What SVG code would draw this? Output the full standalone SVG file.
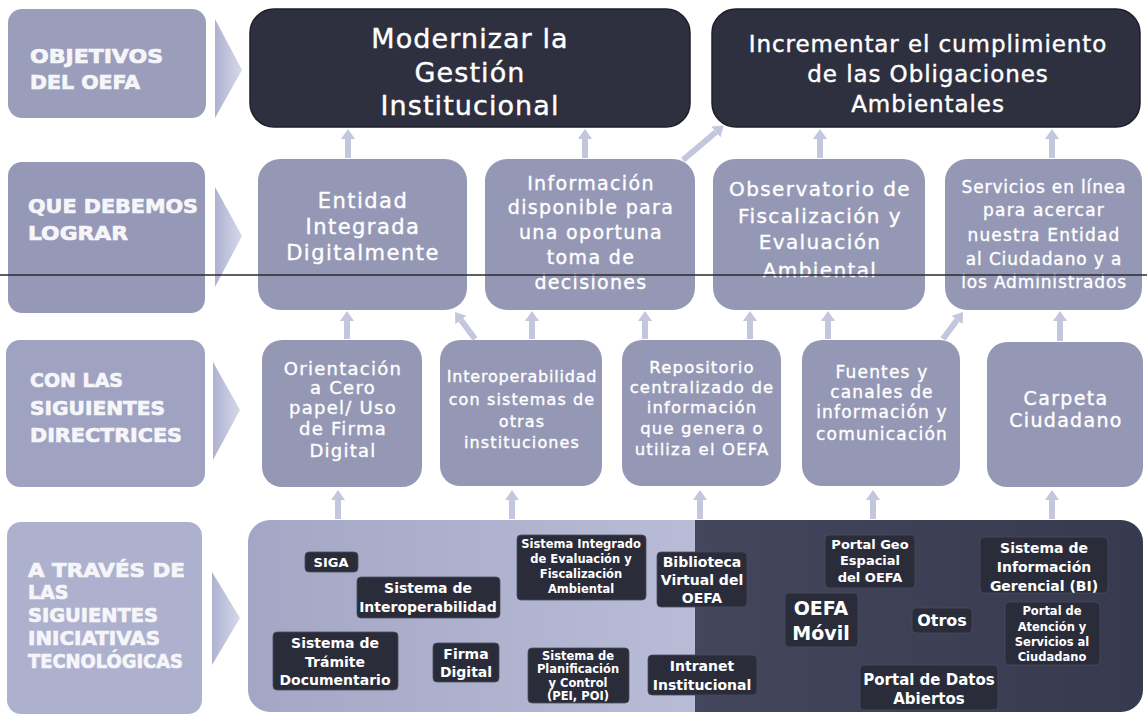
<svg xmlns="http://www.w3.org/2000/svg" width="1147" height="720" viewBox="0 0 1147 720">
<style>
.lbl{fill:#9b9eba}
.lbltxt{font-family:"DejaVu Sans",sans-serif;font-weight:bold;font-size:19px;fill:#f6f6fa;stroke:#f6f6fa;stroke-width:0.7}
.obj{fill:#2e3040;stroke:#1c1e2a;stroke-width:1.5}
.objtxt{font-family:"DejaVu Sans",sans-serif;fill:#ffffff;text-anchor:middle;letter-spacing:0.04em;stroke:#ffffff;stroke-width:0.4}
.node{fill:#9598b5}
.ntxt{font-family:"DejaVu Sans",sans-serif;fill:#ffffff;text-anchor:middle;letter-spacing:0.07em;stroke:#ffffff;stroke-width:0.35}
.tag{fill:#2a2c3a;stroke:#4a4d60;stroke-width:0.8}
.ttxt{font-family:"DejaVu Sans",sans-serif;font-weight:bold;fill:#ffffff;text-anchor:middle}
.arr{stroke:#c3c6dd;stroke-width:6;fill:none;marker-end:url(#ah)}
</style>
<defs>
<marker id="ah" viewBox="0 0 10 14" markerWidth="10" markerHeight="14" refX="0" refY="7" orient="auto" markerUnits="userSpaceOnUse">
<path d="M0,0 L10,7 L0,14 z" fill="#c3c6dd"/>
</marker>
<linearGradient id="chev" x1="0" y1="0" x2="1" y2="0">
<stop offset="0" stop-color="#aeb2d0"/>
<stop offset="1" stop-color="#d6d9ea"/>
</linearGradient>
<linearGradient id="lightpart" x1="0" y1="0" x2="1" y2="0">
<stop offset="0" stop-color="#a3a7c5"/>
<stop offset="1" stop-color="#b9bcd6"/>
</linearGradient>
<linearGradient id="darkpart" x1="0" y1="0" x2="1" y2="0">
<stop offset="0" stop-color="#43465c"/>
<stop offset="1" stop-color="#373a4f"/>
</linearGradient>
<clipPath id="bigclip"><rect x="248" y="520" width="895" height="192" rx="22"/></clipPath>
</defs>
<rect width="1147" height="720" fill="#ffffff"/>

<!-- left labels -->
<g id="label-objetivos">
<rect class="lbl" x="8" y="9" width="198" height="109" rx="14"/>
<text class="lbltxt" x="30" y="63" textLength="133" lengthAdjust="spacingAndGlyphs">OBJETIVOS</text>
<text class="lbltxt" x="30" y="89" textLength="110" lengthAdjust="spacingAndGlyphs">DEL OEFA</text>
<polygon points="215,19 242,70 215,118" fill="url(#chev)"/>
</g>
<g id="label-lograr">
<rect class="lbl" x="8" y="162" width="197" height="151" rx="14" style="fill:#9598b6"/>
<text class="lbltxt" x="28" y="213" textLength="170" lengthAdjust="spacingAndGlyphs">QUE DEBEMOS</text>
<text class="lbltxt" x="28" y="240" textLength="100" lengthAdjust="spacingAndGlyphs">LOGRAR</text>
<polygon points="215,187 242,236 215,287" fill="url(#chev)"/>
</g>
<g id="label-directrices">
<rect class="lbl" x="6" y="340" width="199" height="147" rx="14" style="fill:#9fa2c0"/>
<text class="lbltxt" x="30" y="387" textLength="93" lengthAdjust="spacingAndGlyphs">CON LAS</text>
<text class="lbltxt" x="30" y="415" textLength="135" lengthAdjust="spacingAndGlyphs">SIGUIENTES</text>
<text class="lbltxt" x="30" y="442" textLength="152" lengthAdjust="spacingAndGlyphs">DIRECTRICES</text>
<polygon points="213,362 240,410 213,460" fill="url(#chev)"/>
</g>
<g id="label-iniciativas">
<rect class="lbl" x="7" y="522" width="195" height="192" rx="14" style="fill:#adb1cd"/>
<text class="lbltxt" x="28" y="577" textLength="157" lengthAdjust="spacingAndGlyphs">A TRAVÉS DE</text>
<text class="lbltxt" x="28" y="599">LAS</text>
<text class="lbltxt" x="28" y="622" textLength="130" lengthAdjust="spacingAndGlyphs">SIGUIENTES</text>
<text class="lbltxt" x="28" y="645" textLength="132" lengthAdjust="spacingAndGlyphs">INICIATIVAS</text>
<text class="lbltxt" x="28" y="668" textLength="155" lengthAdjust="spacingAndGlyphs">TECNOLÓGICAS</text>
<polygon points="212,572 240,618 212,665" fill="url(#chev)"/>
</g>

<!-- objectives -->
<g id="obj-modernizar">
<rect class="obj" x="250" y="9" width="440" height="118" rx="24"/>
<text class="objtxt" x="470" y="48" font-size="27">Modernizar la</text>
<text class="objtxt" x="470" y="82" font-size="27">Gestión</text>
<text class="objtxt" x="470" y="115" font-size="27">Institucional</text>
</g>
<g id="obj-incrementar">
<rect class="obj" x="712" y="9" width="428" height="118" rx="24"/>
<text class="objtxt" x="928" y="52" font-size="23">Incrementar el cumplimiento</text>
<text class="objtxt" x="928" y="82" font-size="23">de las Obligaciones</text>
<text class="objtxt" x="928" y="112" font-size="23">Ambientales</text>
</g>

<!-- row 2 -->
<g id="n-entidad">
<rect class="node" x="258" y="159" width="209" height="151" rx="22"/>
<text class="ntxt" x="363" y="208" font-size="21">Entidad</text>
<text class="ntxt" x="363" y="234" font-size="21">Integrada</text>
<text class="ntxt" x="363" y="260" font-size="21">Digitalmente</text>
</g>
<g id="n-informacion">
<rect class="node" x="485" y="159" width="210" height="151" rx="22"/>
<text class="ntxt" x="591" y="190" font-size="19">Información</text>
<text class="ntxt" x="591" y="214" font-size="19">disponible para</text>
<text class="ntxt" x="591" y="239" font-size="19">una oportuna</text>
<text class="ntxt" x="591" y="264" font-size="19">toma de</text>
<text class="ntxt" x="591" y="289" font-size="19">decisiones</text>
</g>
<g id="n-observatorio">
<rect class="node" x="713" y="159" width="212" height="151" rx="22"/>
<text class="ntxt" x="820" y="196" font-size="20">Observatorio de</text>
<text class="ntxt" x="820" y="223" font-size="20">Fiscalización y</text>
<text class="ntxt" x="820" y="249" font-size="20">Evaluación</text>
<text class="ntxt" x="820" y="277" font-size="20">Ambiental</text>
</g>
<g id="n-servicios">
<rect class="node" x="945" y="159" width="197" height="151" rx="22"/>
<text class="ntxt" x="1044" y="193" font-size="17" style="letter-spacing:0.05em">Servicios en línea</text>
<text class="ntxt" x="1044" y="216" font-size="17">para acercar</text>
<text class="ntxt" x="1044" y="241" font-size="17">nuestra Entidad</text>
<text class="ntxt" x="1044" y="265" font-size="17" style="letter-spacing:0.05em">al  Ciudadano y a</text>
<text class="ntxt" x="1044" y="288" font-size="17" style="letter-spacing:0.05em">los Administrados</text>
</g>

<!-- scan line -->
<line x1="0" y1="275" x2="1147" y2="275" stroke="#2a2a30" stroke-width="1.5"/>

<!-- row 3 -->
<g id="d-orientacion">
<rect class="node" x="262" y="340" width="160" height="147" rx="20"/>
<text class="ntxt" x="343" y="375" font-size="18">Orientación</text>
<text class="ntxt" x="343" y="394" font-size="18">a Cero</text>
<text class="ntxt" x="343" y="414" font-size="18">papel/ Uso</text>
<text class="ntxt" x="343" y="435" font-size="18">de Firma</text>
<text class="ntxt" x="343" y="457" font-size="18">Digital</text>
</g>
<g id="d-interoperabilidad">
<rect class="node" x="440" y="340" width="162" height="146" rx="20"/>
<text class="ntxt" x="522" y="382" font-size="16" style="letter-spacing:0.05em">Interoperabilidad</text>
<text class="ntxt" x="522" y="405" font-size="16">con sistemas de</text>
<text class="ntxt" x="522" y="427" font-size="16">otras</text>
<text class="ntxt" x="522" y="448" font-size="16">instituciones</text>
</g>
<g id="d-repositorio">
<rect class="node" x="622" y="340" width="159" height="146" rx="20"/>
<text class="ntxt" x="702" y="373" font-size="16.5">Repositorio</text>
<text class="ntxt" x="702" y="393" font-size="16.5">centralizado de</text>
<text class="ntxt" x="702" y="413" font-size="16.5">información</text>
<text class="ntxt" x="702" y="434" font-size="16.5">que genera o</text>
<text class="ntxt" x="702" y="455" font-size="16.5">utiliza el OEFA</text>
</g>
<g id="d-fuentes">
<rect class="node" x="802" y="340" width="158" height="146" rx="20"/>
<text class="ntxt" x="882" y="378" font-size="17">Fuentes y</text>
<text class="ntxt" x="882" y="398" font-size="17">canales de</text>
<text class="ntxt" x="882" y="418" font-size="17">información y</text>
<text class="ntxt" x="882" y="440" font-size="17">comunicación</text>
</g>
<g id="d-carpeta">
<rect class="node" x="987" y="342" width="156" height="145" rx="20"/>
<text class="ntxt" x="1066" y="405" font-size="19">Carpeta</text>
<text class="ntxt" x="1066" y="427" font-size="19">Ciudadano</text>
</g>

<!-- row 4 -->
<g id="iniciativas-panel">
<g clip-path="url(#bigclip)">
<rect x="248" y="520" width="448" height="192" fill="url(#lightpart)"/>
<rect x="695" y="520" width="448" height="192" fill="url(#darkpart)"/>
</g>
</g>
<g id="t-siga">
<rect class="tag" x="305" y="552" width="53" height="20" rx="4"/>
<text class="ttxt" x="331" y="567" font-size="13">SIGA</text>
</g>
<g id="t-interop">
<rect class="tag" x="357" y="577" width="143" height="41" rx="4"/>
<text class="ttxt" x="428" y="593" font-size="14">Sistema de</text>
<text class="ttxt" x="428" y="612" font-size="14">Interoperabilidad</text>
</g>
<g id="t-tramite">
<rect class="tag" x="273" y="632" width="125" height="58" rx="4"/>
<text class="ttxt" x="335" y="648" font-size="14">Sistema de</text>
<text class="ttxt" x="335" y="667" font-size="14">Trámite</text>
<text class="ttxt" x="335" y="685" font-size="14">Documentario</text>
</g>
<g id="t-firma">
<rect class="tag" x="433" y="643" width="66" height="39" rx="4"/>
<text class="ttxt" x="466" y="659" font-size="14">Firma</text>
<text class="ttxt" x="466" y="677" font-size="14">Digital</text>
</g>
<g id="t-sinefa">
<rect class="tag" x="517" y="535" width="129" height="65" rx="4"/>
<text class="ttxt" x="581" y="548" font-size="11.5">Sistema Integrado</text>
<text class="ttxt" x="581" y="563" font-size="11.5">de Evaluación y</text>
<text class="ttxt" x="581" y="578" font-size="11.5">Fiscalización</text>
<text class="ttxt" x="581" y="593" font-size="11.5">Ambiental</text>
</g>
<g id="t-biblioteca">
<rect class="tag" x="657" y="552" width="90" height="55" rx="4"/>
<text class="ttxt" x="702" y="567" font-size="14">Biblioteca</text>
<text class="ttxt" x="702" y="585" font-size="14">Virtual del</text>
<text class="ttxt" x="702" y="603" font-size="14">OEFA</text>
</g>
<g id="t-planificacion">
<rect class="tag" x="528" y="648" width="101" height="55" rx="4"/>
<text class="ttxt" x="578" y="660" font-size="11.5">Sistema de</text>
<text class="ttxt" x="578" y="673" font-size="11.5">Planificación</text>
<text class="ttxt" x="578" y="687" font-size="11.5">y Control</text>
<text class="ttxt" x="578" y="700" font-size="11.5">(PEI, POI)</text>
</g>
<g id="t-intranet">
<rect class="tag" x="648" y="655" width="109" height="40" rx="4"/>
<text class="ttxt" x="702" y="671" font-size="14">Intranet</text>
<text class="ttxt" x="702" y="690" font-size="14">Institucional</text>
</g>
<g id="t-movil">
<rect class="tag" x="785" y="593" width="73" height="54" rx="4"/>
<text class="ttxt" x="821" y="615" font-size="19">OEFA</text>
<text class="ttxt" x="821" y="640" font-size="19">Móvil</text>
</g>
<g id="t-geo">
<rect class="tag" x="825" y="535" width="90" height="53" rx="4"/>
<text class="ttxt" x="870" y="549" font-size="13">Portal Geo</text>
<text class="ttxt" x="870" y="565" font-size="13">Espacial</text>
<text class="ttxt" x="870" y="582" font-size="13">del OEFA</text>
</g>
<g id="t-bi">
<rect class="tag" x="980" y="537" width="128" height="56" rx="4"/>
<text class="ttxt" x="1044" y="553" font-size="14">Sistema de</text>
<text class="ttxt" x="1044" y="572" font-size="14">Información</text>
<text class="ttxt" x="1044" y="591" font-size="14">Gerencial  (BI)</text>
</g>
<g id="t-otros">
<rect class="tag" x="912" y="608" width="60" height="25" rx="4"/>
<text class="ttxt" x="942" y="626" font-size="16">Otros</text>
</g>
<g id="t-atencion">
<rect class="tag" x="1005" y="602" width="95" height="63" rx="4"/>
<text class="ttxt" x="1052" y="615" font-size="11.5">Portal de</text>
<text class="ttxt" x="1052" y="631" font-size="11.5">Atención y</text>
<text class="ttxt" x="1052" y="646" font-size="11.5">Servicios al</text>
<text class="ttxt" x="1052" y="661" font-size="11.5">Ciudadano</text>
</g>
<g id="t-datos">
<rect class="tag" x="860" y="665" width="138" height="45" rx="4"/>
<text class="ttxt" x="929" y="685" font-size="15">Portal de Datos</text>
<text class="ttxt" x="929" y="704" font-size="15">Abiertos</text>
</g>

<!-- connectors -->
<g id="connectors">
<line class="arr" x1="348" y1="158" x2="348" y2="139"/>
<line class="arr" x1="585" y1="158" x2="585" y2="139"/>
<line class="arr" x1="683" y1="160" x2="716" y2="132"/>
<line class="arr" x1="820" y1="158" x2="820" y2="139"/>
<line class="arr" x1="1052" y1="158" x2="1052" y2="139"/>

<line class="arr" x1="347" y1="339" x2="347" y2="321"/>
<line class="arr" x1="475" y1="339" x2="461" y2="320"/>
<line class="arr" x1="532" y1="339" x2="532" y2="321"/>
<line class="arr" x1="645" y1="339" x2="645" y2="321"/>
<line class="arr" x1="750" y1="339" x2="750" y2="321"/>
<line class="arr" x1="828" y1="339" x2="828" y2="321"/>
<line class="arr" x1="943" y1="339" x2="957" y2="320"/>
<line class="arr" x1="1060" y1="341" x2="1060" y2="321"/>

<line class="arr" x1="338" y1="519" x2="338" y2="500"/>
<line class="arr" x1="512" y1="519" x2="512" y2="500"/>
<line class="arr" x1="700" y1="519" x2="700" y2="500"/>
<line class="arr" x1="873" y1="519" x2="873" y2="500"/>
<line class="arr" x1="1052" y1="519" x2="1052" y2="500"/>
</g>
</svg>
